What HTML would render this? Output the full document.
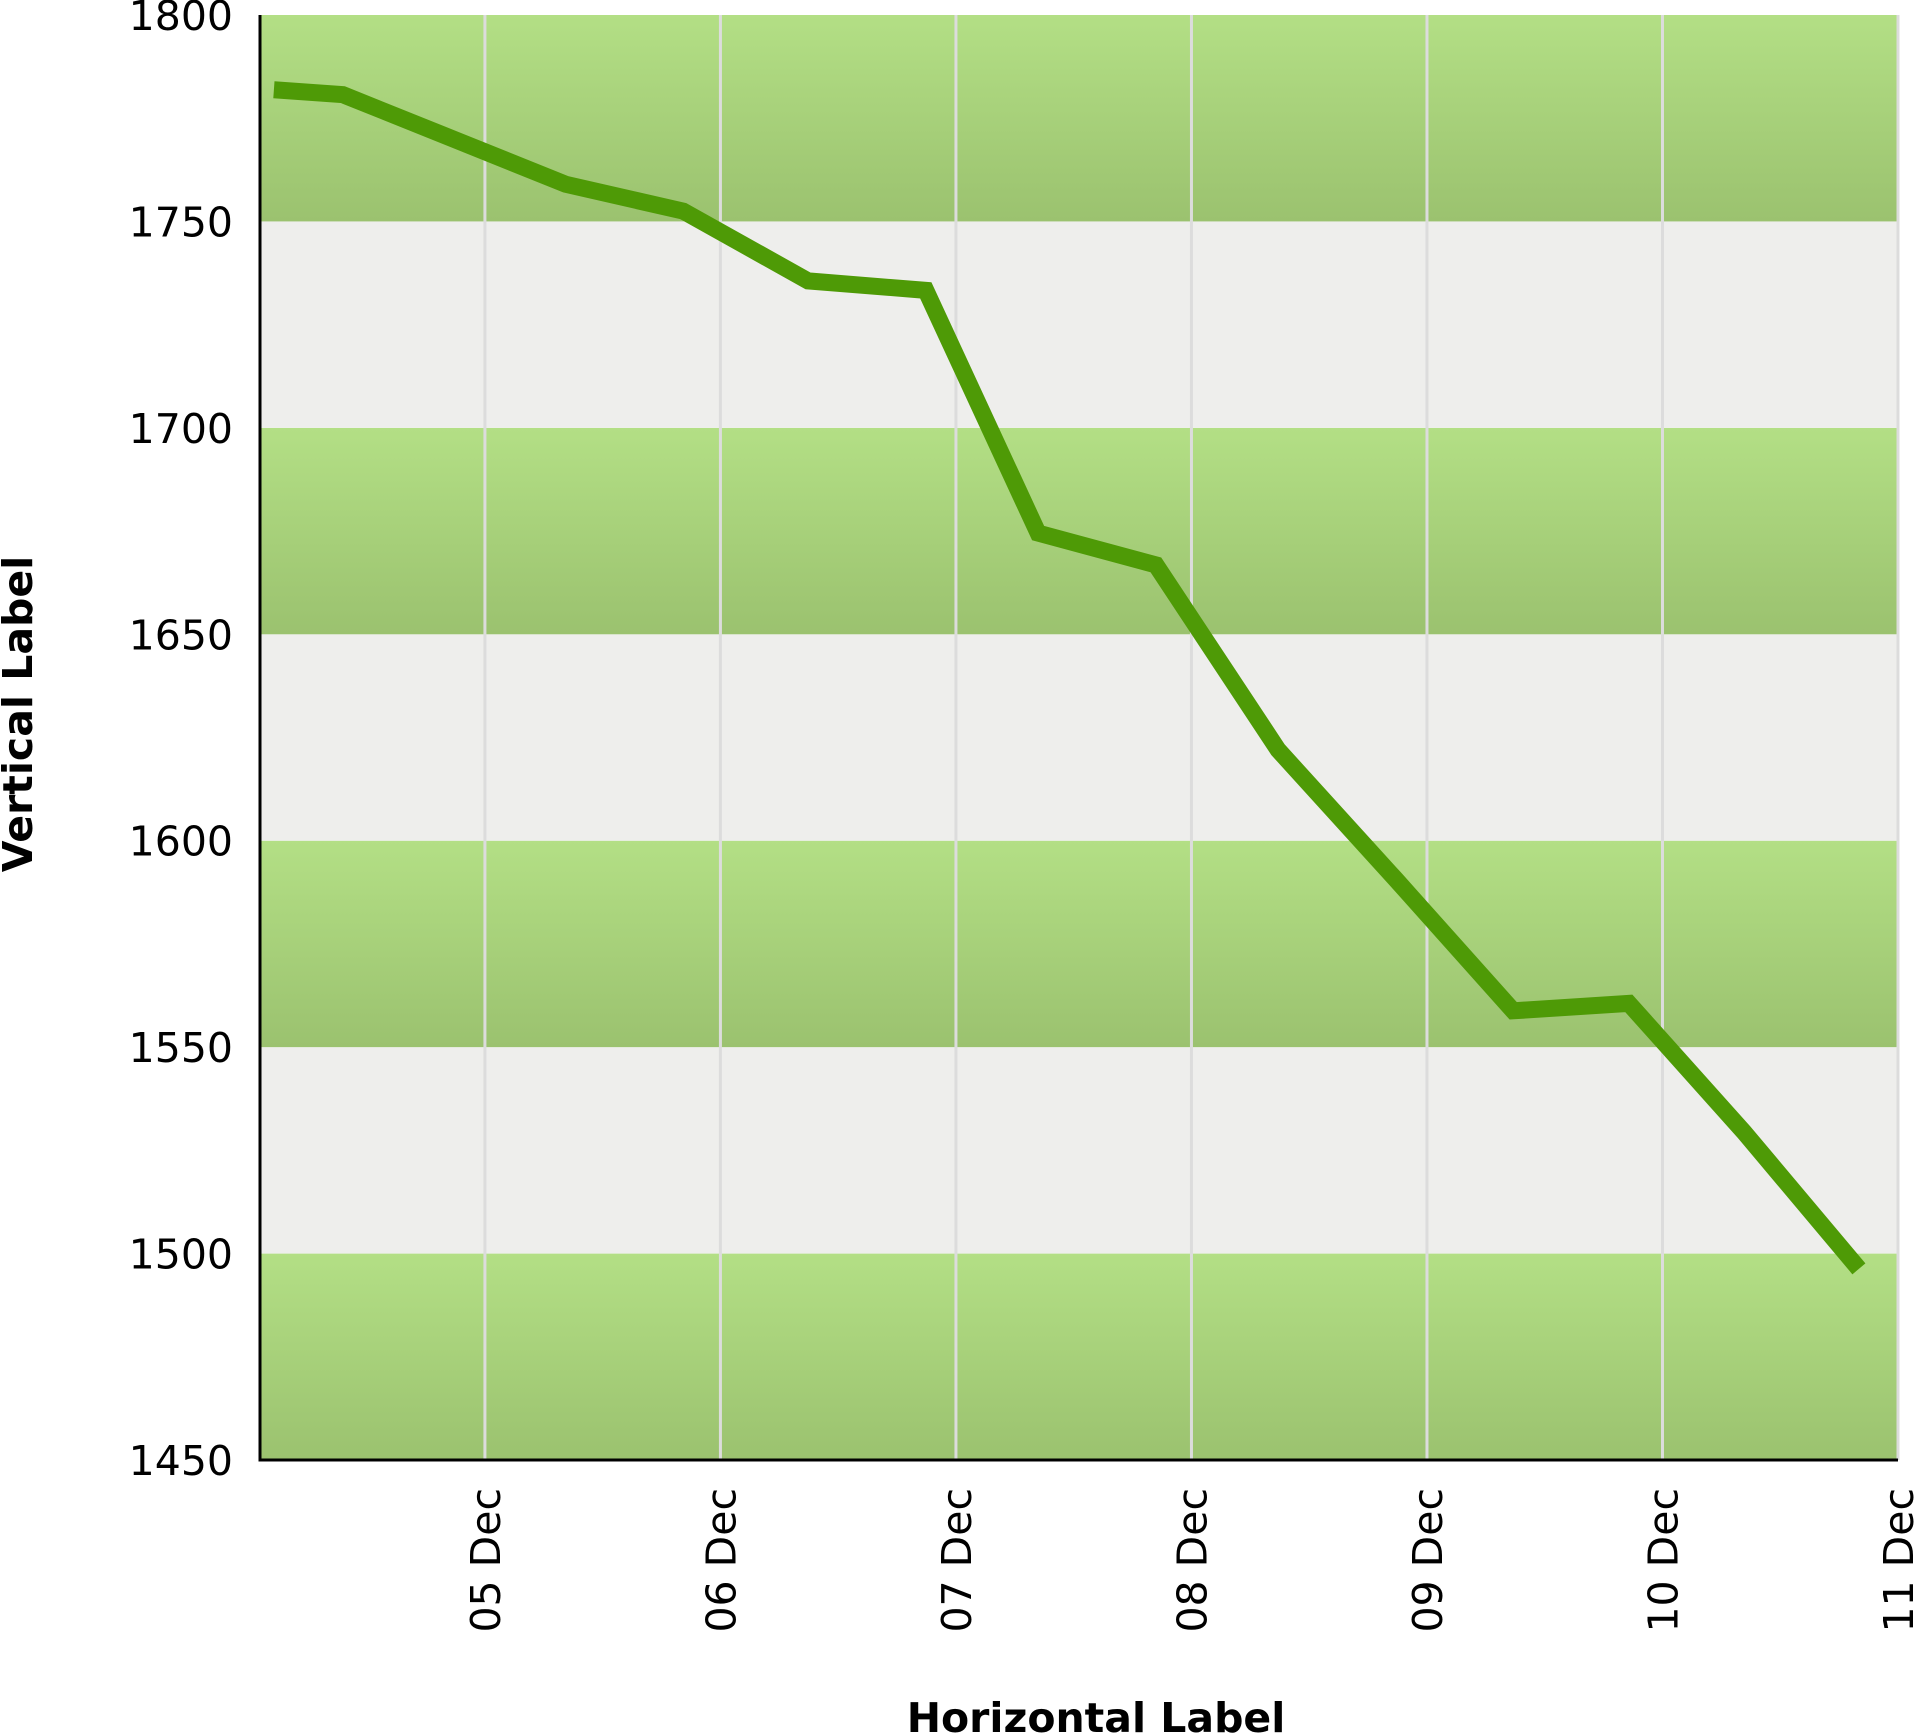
<!DOCTYPE html>
<html><head><meta charset="utf-8"><style>
html,body{margin:0;padding:0;background:#fff;}
svg{display:block;font-family:"DejaVu Sans","Liberation Sans",sans-serif;}
</style></head><body>
<svg id="chart" width="1920" height="1736" viewBox="0 0 1920 1736" xmlns="http://www.w3.org/2000/svg">
<defs>
<linearGradient id="bandGrad" x1="0" y1="0" x2="0" y2="1">
<stop offset="0" stop-color="#b3df85"/><stop offset="1" stop-color="#9bc26f"/>
</linearGradient>
</defs>
<g id="bands"></g><g id="grid"></g><g id="series"></g><g id="axes"></g><g id="labels"></g>
<text x="1096" y="1732" text-anchor="middle" font-size="41" font-weight="bold">Horizontal Label</text>
<text transform="translate(32,714) rotate(-90)" text-anchor="middle" font-size="41" font-weight="bold">Vertical Label</text>
</svg>
<script>
const xDays = [4.104, 4.397, 4.864, 5.343, 5.842, 6.372, 6.872, 7.349, 7.849, 8.368, 8.868, 9.366, 9.857, 10.345, 10.834];
const values = [1781.9, 1780.7, 1770, 1759, 1752.5, 1735.6, 1733.3, 1674.5, 1666.8, 1622, 1590.6, 1558.8, 1560.6, 1529.5, 1496.3];
const yTicks = [1450, 1500, 1550, 1600, 1650, 1700, 1750, 1800];
const xTickDays = [5, 6, 7, 8, 9, 10, 11];
const xTickLabels = ["05 Dec", "06 Dec", "07 Dec", "08 Dec", "09 Dec", "10 Dec", "11 Dec"];

const NS = "http://www.w3.org/2000/svg";
const L = 260, R = 1898, T = 15, B = 1460;
const yMin = 1450, yMax = 1800, dMin = 4.045, dMax = 11;
const x = d => L + (d - dMin) / (dMax - dMin) * (R - L);
const y = v => B - (v - yMin) / (yMax - yMin) * (B - T);
function mk(tag, attrs, parent) {
  const e = document.createElementNS(NS, tag);
  for (const k in attrs) e.setAttribute(k, attrs[k]);
  document.getElementById(parent).appendChild(e);
  return e;
}
for (let i = 0; i < yTicks.length - 1; i++) {
  const r = mk('rect', {x: L, y: y(yTicks[i + 1]), width: R - L, height: y(yTicks[i]) - y(yTicks[i + 1]), fill: i % 2 === 0 ? 'url(#bandGrad)' : '#eeeeec'}, 'bands');
  
  
}
xTickDays.forEach((d, i) => {
  const g = mk('line', {x1: x(d), x2: x(d), y1: T, y2: B, stroke: '#dcdcdc', 'stroke-width': 3}, 'grid');
  
  
  const t = mk('text', {transform: `translate(${x(d) + 15},1488) rotate(-90)`, 'text-anchor': 'end', 'font-size': 41, fill: '#000'}, 'labels');
  t.textContent = xTickLabels[i];
  
  
});
yTicks.forEach(v => {
  const t = mk('text', {x: 233, y: y(v) + 15, 'text-anchor': 'end', 'font-size': 41, fill: '#000'}, 'labels');
  t.textContent = v;
  
  
});
const pts = xDays.map((d, i) => x(d) + ',' + y(values[i])).join(' ');
const line = mk('polyline', {points: pts, fill: 'none', stroke: '#4e9a06', 'stroke-width': 17, 'stroke-linejoin': 'miter'}, 'series');


const ya = mk('line', {x1: L, x2: L, y1: T, y2: B + 1.5, stroke: '#000', 'stroke-width': 3}, 'axes');


const xa = mk('line', {x1: L - 1.5, x2: R, y1: B, y2: B, stroke: '#000', 'stroke-width': 3}, 'axes');


</script>
</body></html>
